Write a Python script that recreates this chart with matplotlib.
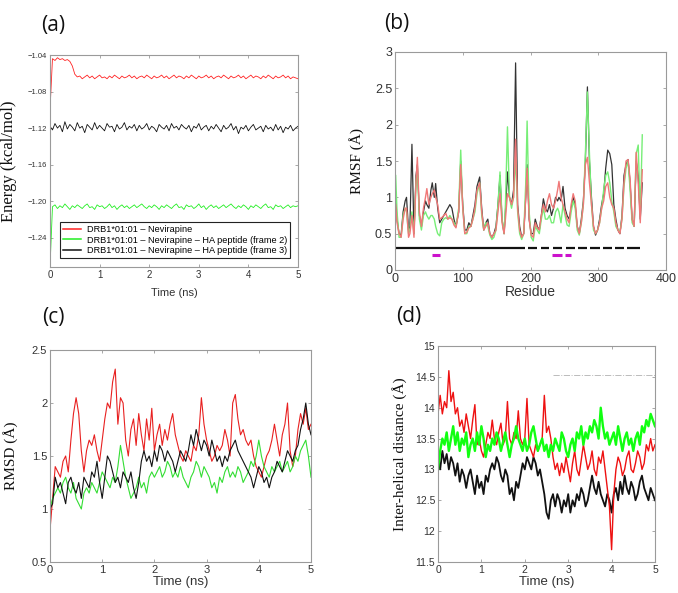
import numpy as np
import matplotlib
matplotlib.use("Agg")
import matplotlib.pyplot as plt
from matplotlib.ticker import FuncFormatter

# ---------------- data ----------------
# (a) energy vs time
energy_red = [-1.100, -1.044, -1.046, -1.043, -1.045, -1.044, -1.046, -1.045, -1.047, -1.052,
              -1.061, -1.064, -1.063, -1.066, -1.064, -1.062, -1.065, -1.063, -1.066, -1.064,
              -1.062, -1.065, -1.064, -1.066, -1.063, -1.065, -1.062, -1.064, -1.066, -1.063,
              -1.065, -1.064, -1.062, -1.065, -1.063, -1.066, -1.064, -1.063, -1.065, -1.062,
              -1.064, -1.066, -1.063, -1.065, -1.064, -1.062, -1.065, -1.063, -1.066, -1.064,
              -1.062, -1.065, -1.063, -1.064, -1.066, -1.063, -1.065, -1.062, -1.064, -1.066,
              -1.063, -1.065, -1.064, -1.062, -1.065, -1.063, -1.066, -1.064, -1.063, -1.065,
              -1.062, -1.064, -1.066, -1.063, -1.065, -1.064, -1.062, -1.065, -1.063, -1.066,
              -1.064, -1.062, -1.065, -1.063, -1.064, -1.066, -1.063, -1.065, -1.062, -1.064,
              -1.066, -1.063, -1.065, -1.064, -1.062, -1.065, -1.063, -1.066, -1.064, -1.065, -1.066]
energy_black = [-1.118, -1.122, -1.115, -1.120, -1.117, -1.124, -1.113, -1.121, -1.116, -1.119,
                -1.123, -1.114, -1.120, -1.118, -1.125, -1.116, -1.119, -1.122, -1.114, -1.121,
                -1.117, -1.120, -1.123, -1.115, -1.119, -1.118, -1.124, -1.116, -1.121, -1.119,
                -1.114, -1.122, -1.118, -1.120, -1.116, -1.123, -1.117, -1.121, -1.119, -1.115,
                -1.122, -1.118, -1.120, -1.124, -1.116, -1.119, -1.121, -1.117, -1.123, -1.115,
                -1.120, -1.118, -1.122, -1.116, -1.119, -1.121, -1.117, -1.124, -1.118, -1.120,
                -1.115, -1.122, -1.119, -1.117, -1.123, -1.118, -1.121, -1.116, -1.120, -1.124,
                -1.117, -1.121, -1.119, -1.115, -1.122, -1.118, -1.126, -1.119, -1.121, -1.117,
                -1.123, -1.119, -1.116, -1.122, -1.120, -1.118, -1.124, -1.117, -1.121, -1.119,
                -1.123, -1.116, -1.122, -1.118, -1.125, -1.119, -1.121, -1.117, -1.123, -1.120, -1.118]
energy_green = [-1.272, -1.206, -1.204, -1.208, -1.205, -1.207, -1.203, -1.206, -1.209, -1.205,
                -1.207, -1.204, -1.206, -1.208, -1.205, -1.203, -1.207, -1.206, -1.209, -1.204,
                -1.206, -1.205, -1.208, -1.206, -1.203, -1.207, -1.205, -1.209, -1.206, -1.204,
                -1.207, -1.205, -1.208, -1.206, -1.204, -1.207, -1.205, -1.203, -1.206, -1.208,
                -1.205, -1.207, -1.204, -1.206, -1.209, -1.205, -1.207, -1.204, -1.206, -1.208,
                -1.205, -1.203, -1.207, -1.206, -1.209, -1.204, -1.206, -1.205, -1.208, -1.206,
                -1.203, -1.207, -1.205, -1.209, -1.206, -1.204, -1.207, -1.205, -1.208, -1.206,
                -1.204, -1.207, -1.205, -1.203, -1.206, -1.208, -1.205, -1.207, -1.204, -1.206,
                -1.209, -1.205, -1.207, -1.204, -1.206, -1.208, -1.205, -1.203, -1.207, -1.206,
                -1.209, -1.204, -1.206, -1.205, -1.208, -1.206, -1.204, -1.207, -1.205, -1.206, -1.205]
legend_labels = ["DRB1*01:01 \u2013 Nevirapine",
                 "DRB1*01:01 \u2013 Nevirapine \u2013 HA peptide (frame 2)",
                 "DRB1*01:01 \u2013 Nevirapine \u2013 HA peptide (frame 3)"]

# (b) RMSF vs residue
residues = [1, 3, 6, 9, 12, 15, 17, 20, 22, 25,
            28, 31, 33, 36, 39, 42, 45, 47, 50, 53,
            55, 58, 60, 63, 66, 69, 72, 75, 78, 81,
            84, 87, 90, 94, 97, 100, 103, 106, 109, 112,
            115, 118, 121, 125, 128, 131, 134, 137, 140, 143,
            146, 149, 152, 155, 158, 161, 163, 166, 169, 172,
            175, 178, 181, 184, 187, 190, 193, 195, 198, 201,
            204, 207, 210, 213, 216, 219, 222, 225, 228, 231,
            234, 237, 240, 242, 245, 248, 251, 254, 257, 260,
            263, 266, 269, 272, 275, 278, 281, 284, 287, 290,
            293, 296, 299, 302, 305, 308, 311, 314, 317, 320,
            323, 326, 329, 332, 335, 338, 341, 344, 347, 350,
            353, 356, 359, 362, 365]
rmsf_black = [1.0, 0.7, 0.5, 0.48, 0.8, 0.95, 1.0, 0.55, 0.6, 1.73,
              0.5, 1.3, 1.45, 0.75, 0.6, 0.8, 0.95, 0.9, 0.85, 1.1,
              1.2, 1.0, 1.19, 0.85, 0.65, 0.7, 0.75, 0.8, 0.85, 0.9,
              0.85, 0.7, 0.6, 0.8, 1.5, 0.9, 0.55, 0.55, 0.65, 0.6,
              0.75, 0.9, 1.15, 1.28, 0.85, 0.55, 0.65, 0.7, 0.5, 0.45,
              0.5, 0.6, 0.9, 1.3, 0.7, 0.5, 0.8, 1.35, 1.0, 0.9,
              1.1, 2.85, 0.9, 0.6, 0.45, 0.5, 1.0, 1.45, 0.7, 0.5,
              0.5, 0.7, 0.6, 0.55, 0.75, 0.98, 0.85, 0.8, 0.9, 0.75,
              0.85, 1.0, 0.95, 1.0, 0.95, 1.15, 0.85, 0.75, 0.7, 0.85,
              1.0, 0.9, 0.6, 0.5, 0.7, 0.95, 1.5, 2.52, 1.5, 1.0,
              0.6, 0.48, 0.55, 0.7, 0.9, 1.05, 1.4, 1.65, 1.6, 1.45,
              0.9, 0.7, 0.55, 0.5, 0.75, 1.3, 1.45, 1.52, 1.2, 0.7,
              0.6, 1.5, 1.3, 0.7, 1.2]
rmsf_green = [1.3, 0.8, 0.45, 0.45, 0.75, 0.85, 0.8, 0.5, 0.55, 0.8,
              0.5, 1.2, 1.4, 0.7, 0.55, 0.75, 0.8, 0.75, 0.7, 0.75,
              0.75, 0.7, 0.6, 0.5, 0.47, 0.65, 0.7, 0.72, 0.7, 0.75,
              0.7, 0.65, 0.6, 0.85, 1.65, 0.85, 0.5, 0.5, 0.6, 0.6,
              0.7, 0.8, 1.05, 1.2, 0.75, 0.55, 0.65, 0.6, 0.48, 0.42,
              0.45, 0.55, 0.9, 1.35, 0.7, 0.5, 0.9, 1.97, 1.0, 0.85,
              1.0, 1.55, 0.8, 0.5, 0.42, 0.5, 1.2, 2.05, 0.8, 0.45,
              0.4, 0.6, 0.55, 0.5, 0.7, 0.85, 0.7, 0.7, 0.75, 0.65,
              0.65, 0.8, 0.85, 0.8, 0.65, 0.9, 0.75, 0.62, 0.6, 0.8,
              0.95, 0.85, 0.55, 0.48, 0.65, 0.9, 1.6, 2.45, 1.6, 0.9,
              0.55, 0.5, 0.55, 0.65, 0.85, 1.1, 1.3, 1.35, 1.2, 0.95,
              0.8, 0.6, 0.55, 0.52, 0.7, 1.15, 1.4, 1.5, 1.1, 0.65,
              0.6, 1.6, 1.72, 0.75, 1.86]
rmsf_red = [0.9, 0.65, 0.5, 0.45, 0.7, 0.85, 0.85, 0.45, 0.5, 0.75,
            0.45, 1.2, 1.55, 0.8, 0.6, 0.85, 1.0, 1.12, 0.9, 1.0,
            1.05, 1.1, 1.0, 0.9, 0.7, 0.72, 0.75, 0.78, 0.7, 0.72,
            0.7, 0.62, 0.58, 0.8, 1.45, 0.85, 0.5, 0.52, 0.58, 0.6,
            0.7, 0.85, 1.1, 1.2, 0.8, 0.55, 0.6, 0.65, 0.5, 0.45,
            0.5, 0.55, 0.8, 1.05, 0.65, 0.5, 0.7, 1.05, 1.0, 0.9,
            1.0, 1.8, 0.85, 0.55, 0.45, 0.5, 1.0, 1.4, 0.7, 0.48,
            0.45, 0.65, 0.58, 0.55, 0.75, 0.9, 0.8, 0.95, 1.05, 0.9,
            0.85, 0.95, 1.1, 1.22, 1.0, 0.9, 0.8, 0.7, 0.65, 0.9,
            1.05, 0.95, 0.6, 0.5, 0.65, 0.9, 1.45, 1.55, 1.2, 0.9,
            0.6, 0.5, 0.55, 0.65, 0.85, 0.95, 1.15, 1.2, 1.0, 0.9,
            0.85, 0.65, 0.55, 0.5, 0.7, 1.2, 1.5, 1.52, 1.25, 0.7,
            0.6, 1.62, 1.2, 0.65, 1.38]
helix_solid = [(0, 180)]
helix_dashes = [(180, 192), (197, 210), (215, 228), (233, 247), (252, 265),
                (270, 283), (288, 302), (307, 320), (325, 338), (343, 362)]
site_bars = [(55, 66), (232, 246), (251, 260)]

# (c) RMSD vs time
rmsd_red = [0.8, 1.1, 1.4, 1.35, 1.3, 1.45, 1.5, 1.35, 1.65, 1.9,
            2.05, 1.9, 1.55, 1.35, 1.55, 1.65, 1.6, 1.7, 1.55, 1.45,
            1.65, 1.85, 2.0, 1.95, 2.2, 2.32, 1.8, 2.05, 2.0, 1.65,
            1.5, 1.75, 1.85, 1.6, 1.9, 1.7, 1.55, 1.85, 1.65, 1.95,
            1.55, 1.7, 1.8, 1.6, 1.75, 1.65, 1.8, 1.9, 1.7, 1.6,
            1.5, 1.45, 1.55, 1.5, 1.45, 1.6, 1.55, 1.7, 2.05, 1.8,
            1.65, 1.55, 1.45, 1.5, 1.6, 1.55, 1.6, 1.75, 1.65, 1.5,
            2.0, 2.08, 1.85, 1.7, 1.75, 1.65, 1.6, 1.65, 1.5, 1.4,
            1.35, 1.3, 1.4, 1.5, 1.55, 1.65, 1.8, 1.65, 1.5, 1.7,
            1.8, 2.0, 1.55, 1.4, 1.5, 1.75, 1.9, 1.8, 1.95, 1.75, 1.8]
rmsd_black = [1.0, 1.05, 1.3, 1.2, 1.25, 1.15, 1.05, 1.25, 1.3, 1.2,
              1.15, 1.25, 1.1, 1.3, 1.25, 1.2, 1.35, 1.3, 1.45, 1.25,
              1.1, 1.3, 1.5, 1.45, 1.35, 1.25, 1.3, 1.2, 1.35, 1.3,
              1.25, 1.35, 1.2, 1.1, 1.25, 1.45, 1.55, 1.45, 1.5, 1.4,
              1.55, 1.45, 1.6, 1.55, 1.45, 1.55, 1.5, 1.45, 1.35, 1.45,
              1.55, 1.5, 1.45, 1.55, 1.7, 1.6, 1.75, 1.65, 1.55, 1.65,
              1.6, 1.5, 1.65, 1.55, 1.45, 1.5, 1.4, 1.5, 1.45, 1.55,
              1.6, 1.65, 1.55, 1.5, 1.45, 1.4, 1.35, 1.3, 1.2, 1.3,
              1.4, 1.35, 1.25, 1.3, 1.2, 1.3, 1.35, 1.45, 1.4, 1.35,
              1.45, 1.55, 1.5, 1.45, 1.55, 1.6, 1.75, 1.85, 2.0, 1.8, 1.7]
rmsd_green = [1.0, 1.1, 1.15, 1.2, 1.15, 1.25, 1.3, 1.2, 1.15, 1.25,
              1.1, 1.05, 1.0, 1.15, 1.2, 1.15, 1.25, 1.2, 1.15, 1.25,
              1.35, 1.3, 1.25, 1.2, 1.3, 1.25, 1.4, 1.6, 1.45, 1.3,
              1.2, 1.1, 1.15, 1.2, 1.3, 1.2, 1.25, 1.15, 1.3, 1.35,
              1.3, 1.35, 1.4, 1.3, 1.35, 1.45, 1.4, 1.3, 1.35, 1.3,
              1.4, 1.3, 1.25, 1.2, 1.3, 1.35, 1.45, 1.4, 1.3, 1.4,
              1.35, 1.3, 1.2, 1.25, 1.15, 1.3, 1.25, 1.35, 1.4, 1.3,
              1.35, 1.3, 1.4, 1.35, 1.25, 1.3, 1.35, 1.45, 1.4, 1.5,
              1.65, 1.5, 1.4, 1.35, 1.3, 1.4, 1.35, 1.4, 1.45, 1.35,
              1.4, 1.45, 1.35, 1.4, 1.5, 1.45, 1.55, 1.6, 1.65, 1.5, 1.3]

# (d) inter-helical distance vs time
dist_red = [13.9, 14.2, 13.9, 14.1, 14.0, 14.6, 14.1, 14.25, 13.9, 14.0,
            13.7, 13.8, 13.6, 13.9, 13.7, 13.5, 13.8, 14.05, 13.4, 13.5,
            13.3, 13.2, 13.4, 13.6, 13.5, 13.8, 13.5, 13.4, 13.6, 13.75,
            13.4, 13.5, 14.1, 13.5, 13.4, 13.6, 13.5, 13.95, 13.5, 13.4,
            13.5, 14.15, 13.4, 13.3, 13.2, 13.4, 13.3, 13.4, 13.5, 14.2,
            13.6, 13.7, 13.5, 13.2, 13.0, 13.1, 12.9, 13.1, 12.95, 13.2,
            13.0, 12.8, 13.1, 13.3, 13.0, 12.9, 13.15, 13.4, 13.2, 13.0,
            13.1, 13.3, 13.0, 12.9, 13.2, 13.1, 13.3, 13.0, 12.7, 12.4,
            11.7, 12.6, 13.0, 13.2, 13.1, 12.9, 13.0, 13.2, 13.3, 13.0,
            12.95, 13.1, 13.3, 13.2, 13.0, 13.1, 13.4, 13.3, 13.5, 13.3, 13.4]
dist_green = [13.0, 13.3, 13.5, 13.4, 13.6, 13.3, 13.5, 13.7, 13.4, 13.6,
              13.3, 13.5, 13.4, 13.6, 13.2, 13.4, 13.5, 13.3, 13.6, 13.4,
              13.7, 13.5, 13.2, 13.4, 13.3, 13.5, 13.4, 13.6, 13.5, 13.3,
              13.45, 13.6, 13.4, 13.2, 13.4, 13.5, 13.7, 13.5, 13.4, 13.3,
              13.5, 13.3, 13.4, 13.6, 13.7, 13.5, 13.3, 13.4, 13.5, 13.3,
              13.4, 13.2, 13.4, 13.3, 13.5, 13.4, 13.3, 13.6, 13.5, 13.3,
              13.2, 13.4, 13.5, 13.3, 13.6, 13.5, 13.7, 13.4, 13.6, 13.5,
              13.7, 13.6, 13.8, 13.7, 13.5, 14.0, 13.7, 13.5, 13.6, 13.4,
              13.5, 13.6, 13.4, 13.7, 13.5, 13.3, 13.5, 13.6, 13.4, 13.5,
              13.3, 13.5, 13.6, 13.4, 13.7, 13.6, 13.8, 13.7, 13.9, 13.8, 13.7]
dist_black = [13.2, 13.0, 13.3, 13.1, 13.25, 13.0, 13.2, 13.1, 12.9, 13.1,
              12.8, 13.0, 12.9, 12.7, 12.9, 13.0, 12.8, 12.6, 12.9, 12.7,
              12.8, 12.6, 12.9, 12.8, 13.0, 13.1, 13.0, 13.2, 13.1, 12.9,
              12.8, 13.0, 12.9, 12.6, 12.7, 12.5, 12.8, 12.7, 12.9, 13.1,
              13.0, 13.2, 13.1, 13.0, 13.2, 13.1, 12.9, 13.0, 12.8, 12.6,
              12.3, 12.2, 12.5, 12.6, 12.4, 12.6, 12.5, 12.3, 12.5, 12.4,
              12.6, 12.3, 12.5, 12.4, 12.6, 12.5, 12.7, 12.6, 12.4, 12.5,
              12.7, 12.9, 12.7, 12.6, 12.8, 12.6, 12.5, 12.4, 12.6, 12.5,
              12.3, 12.6, 12.7, 12.5, 12.8, 12.6, 12.9, 12.7, 12.6, 12.8,
              12.7, 12.5, 12.6, 12.8, 12.9, 12.7, 12.6, 12.5, 12.7, 12.6, 12.5]
ref_line_level = 14.53
ref_line_span = (2.65, 5.0)

# ---------------- style ----------------
W, H = 678, 593
fig = plt.figure(figsize=(W / 100, H / 100), dpi=100)
SANS = ["Liberation Sans", "DejaVu Sans"]
SERIF = ["Liberation Serif", "DejaVu Serif"]
SPINE = "#9a9a9a"
TXT = "#333333"


def ax_rect(x0, y0, x1, y1):
    return [x0 / W, 1 - y1 / H, (x1 - x0) / W, (y1 - y0) / H]


def style_axes(ax, tick_size):
    for s in ax.spines.values():
        s.set_color(SPINE)
        s.set_linewidth(0.8)
    ax.tick_params(direction="in", top=True, right=True, length=2.5, width=0.6,
                   color=SPINE, labelsize=tick_size, labelcolor=TXT, pad=2)
    for lab in ax.get_xticklabels() + ax.get_yticklabels():
        lab.set_family(SANS)


def gfmt(v, pos):
    return ("%g" % v)


def tvec(vals):
    return np.linspace(0, 5, len(vals))


# ---- (a)
axa = fig.add_axes(ax_rect(50, 55, 298, 267))
axa.plot(tvec(energy_red), energy_red, color="#ff2222", lw=0.6, label=legend_labels[0])
axa.plot(tvec(energy_green), energy_green, color="#22ee22", lw=0.6, label=legend_labels[1])
axa.plot(tvec(energy_black), energy_black, color="#111111", lw=0.6, label=legend_labels[2])
axa.set_xlim(0, 5)
axa.set_ylim(-1.272, -1.04)
axa.set_xticks([0, 1, 2, 3, 4, 5])
axa.set_yticks([-1.04, -1.08, -1.12, -1.16, -1.20, -1.24])
axa.yaxis.set_major_formatter(FuncFormatter(lambda v, p: ("%.2f" % v).replace("-", "\u2212")))
style_axes(axa, 7)
axa.tick_params(axis="y", labelsize=5.5)
axa.set_xlabel("Time (ns)", fontsize=8, family=SANS, color=TXT, labelpad=6)
axa.set_ylabel("Energy (kcal/mol)", fontsize=12, family=SERIF, color="#111111", labelpad=8)
leg = axa.legend(loc="lower left", bbox_to_anchor=(0.04, 0.042), borderaxespad=0,
                 prop={"family": SANS, "size": 6.6}, fancybox=False,
                 framealpha=1, edgecolor="#222222", handlelength=2.0,
                 borderpad=0.35, labelspacing=0.15, handletextpad=0.6)
leg.get_frame().set_linewidth(0.8)
for ln in leg.get_lines():
    ln.set_linewidth(1.1)

# ---- (b)
axb = fig.add_axes(ax_rect(395, 52, 666, 270))
axb.plot(residues, rmsf_black, color="#333333", lw=0.9)
axb.plot(residues, rmsf_green, color="#77ee77", lw=1.0)
axb.plot(residues, rmsf_red, color="#f07878", lw=1.0)
for a, b in helix_solid + helix_dashes:
    axb.plot([a, b], [0.3, 0.3], color="#111111", lw=1.6, solid_capstyle="butt")
for a, b in site_bars:
    axb.plot([a, b], [0.2, 0.2], color="#cc11cc", lw=2.2, solid_capstyle="butt")
axb.set_xlim(0, 400)
axb.set_ylim(0, 3)
axb.set_xticks([0, 100, 200, 300, 400])
axb.set_yticks([0, 0.5, 1, 1.5, 2, 2.5, 3])
axb.yaxis.set_major_formatter(FuncFormatter(gfmt))
style_axes(axb, 9)
axb.set_xlabel("Residue", fontsize=10, family=SANS, color=TXT, labelpad=0)
axb.set_ylabel("RMSF (\u00c5)", fontsize=11, family=SERIF, color="#111111", labelpad=8)

# ---- (c)
axc = fig.add_axes(ax_rect(50, 350, 311, 562))
axc.plot(tvec(rmsd_red), rmsd_red, color="#e82020", lw=0.8)
axc.plot(tvec(rmsd_green), rmsd_green, color="#33dd33", lw=0.8)
axc.plot(tvec(rmsd_black), rmsd_black, color="#111111", lw=0.8)
axc.set_xlim(0, 5)
axc.set_ylim(0.5, 2.5)
axc.set_xticks([0, 1, 2, 3, 4, 5])
axc.set_yticks([0.5, 1, 1.5, 2, 2.5])
axc.yaxis.set_major_formatter(FuncFormatter(gfmt))
style_axes(axc, 8)
axc.set_xlabel("Time (ns)", fontsize=9.5, family=SANS, color=TXT, labelpad=1)
axc.set_ylabel("RMSD (\u00c5)", fontsize=11, family=SERIF, color="#111111", labelpad=10)

# ---- (d)
axd = fig.add_axes(ax_rect(438, 346, 655, 562))
axd.plot(tvec(dist_black), dist_black, color="#111111", lw=1.3)
axd.plot(tvec(dist_red), dist_red, color="#ee1111", lw=1.0)
axd.plot(tvec(dist_green), dist_green, color="#11ff11", lw=1.7)
axd.plot(list(ref_line_span), [ref_line_level, ref_line_level], color="#bbbbbb",
         lw=0.7, ls="-.")
axd.set_xlim(0, 5)
axd.set_ylim(11.5, 15)
axd.set_xticks([0, 1, 2, 3, 4, 5])
axd.set_yticks([11.5, 12, 12.5, 13, 13.5, 14, 14.5, 15])
axd.yaxis.set_major_formatter(FuncFormatter(gfmt))
style_axes(axd, 7.5)
axd.set_xlabel("Time (ns)", fontsize=9.5, family=SANS, color=TXT, labelpad=1)
axd.set_ylabel("Inter-helical distance (\u00c5)", fontsize=11, family=SERIF,
               color="#111111", labelpad=6)

# ---- panel labels
PL = ["Open Sans", "DejaVu Sans"]
for txt, x, y in [("(a)", 53, 25), ("(b)", 397, 24), ("(c)", 53, 318), ("(d)", 409, 317)]:
    fig.text(x / W, 1 - y / H, txt, fontsize=15, family=PL, ha="center", va="center",
             color="#111111")

fig.savefig("out.png", dpi=100)
